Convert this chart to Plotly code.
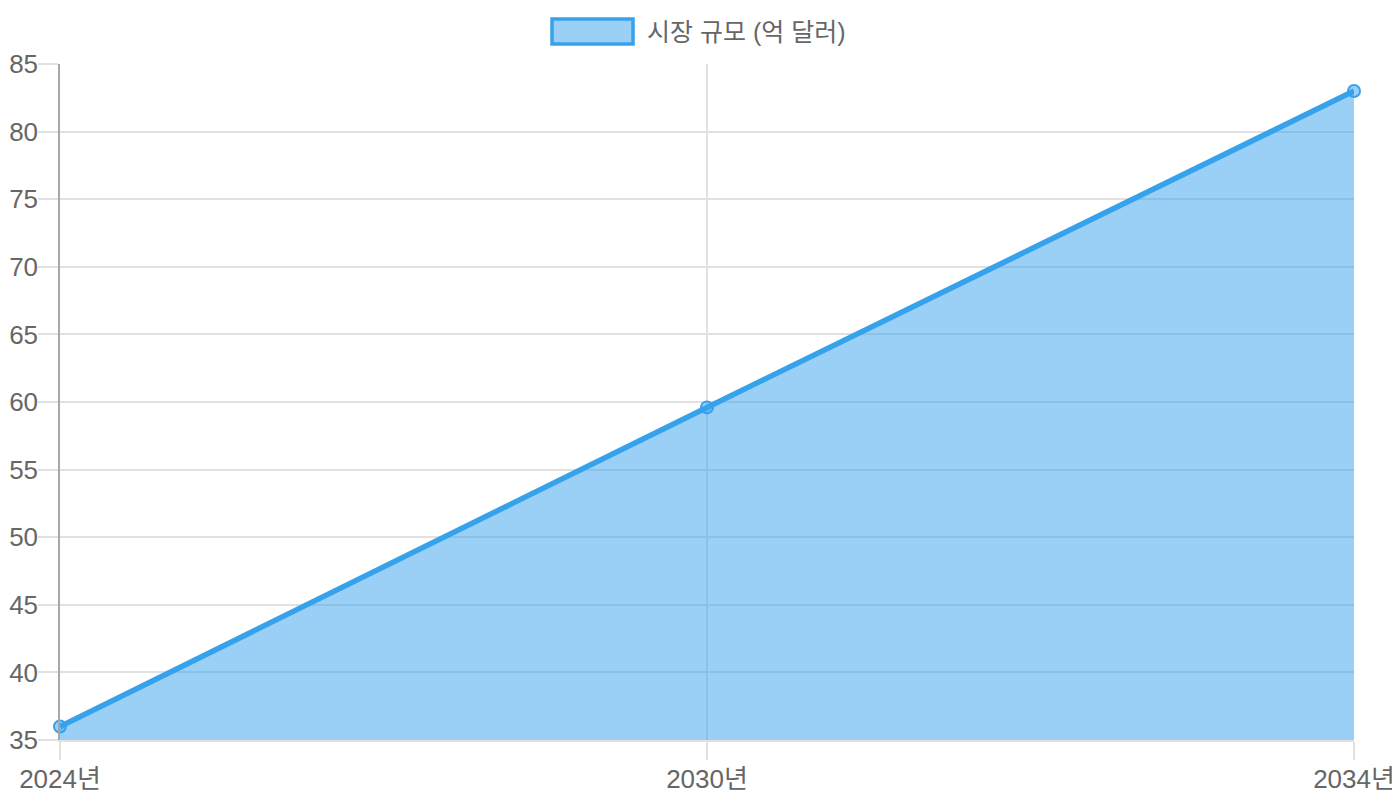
import plotly.graph_objects as go

categories = ["2024년", "2030년", "2034년"]
values = [36, 59.6, 83]
series_name = "시장 규모 (억 달러)"
y_ticks = [35, 40, 45, 50, 55, 60, 65, 70, 75, 80, 85]

FONT = "Liberation Sans, Noto Sans CJK KR, sans-serif"
BLUE = "#36A2EB"
FILL = "rgba(54,162,235,0.5)"
GRID = "#e1e1e1"

# page body has an 8px margin, so the figure is 8px smaller than the window
W, H = 1392, 792
L, R, T, B = 52, 46, 56, 60
PW, PH = W - L - R, H - T - B

fig = go.Figure()
fig.add_trace(go.Scatter(
    x=categories, y=values, mode="lines+markers",
    fill="tozeroy", fillcolor=FILL,
    line=dict(color=BLUE, width=5.5),
    marker=dict(size=12, color=FILL, line=dict(color=BLUE, width=2)),
    cliponaxis=False, showlegend=False, name=series_name,
))

fig.update_layout(
    width=W, height=H,
    margin=dict(l=L, r=R, t=T, b=B),
    paper_bgcolor="white", plot_bgcolor="white",
    font=dict(family=FONT, color="#666", size=22),
    xaxis=dict(
        type="category", range=[0, len(categories) - 1],
        automargin=False,
        showgrid=True, gridcolor=GRID, gridwidth=1.5,
        showline=True, linecolor=GRID, linewidth=1.5,
        ticks="outside", ticklen=18, tickcolor=GRID, tickwidth=1.5,
        ticklabelstandoff=-3,
        tickfont=dict(size=26, color="#666"),
        zeroline=False,
    ),
    yaxis=dict(
        range=[35, 85], tickvals=y_ticks,
        automargin=False,
        showgrid=True, gridcolor=GRID, gridwidth=1.5,
        showline=True, linecolor="#a8a8a8", linewidth=1.5,
        ticks="outside", ticklen=20, tickcolor=GRID, tickwidth=1.5,
        ticklabelstandoff=-5,
        tickfont=dict(size=26, color="#666"),
        zeroline=False,
    ),
    shapes=[dict(
        type="rect", xref="paper", yref="paper",
        x0=(552 - 8 - L) / PW, x1=(633 - 8 - L) / PW,
        y0=1 + (64 - 44) / PH, y1=1 + (64 - 19) / PH,
        fillcolor=FILL, line=dict(color=BLUE, width=3.5),
    )],
    annotations=[dict(
        text=series_name, xref="paper", yref="paper",
        x=(645 - 8 - L) / PW, y=1 + (64 - 32) / PH,
        xanchor="left", yanchor="middle", showarrow=False,
        font=dict(size=25, color="#666", family=FONT),
    )],
)

fig.write_html("out.html")
